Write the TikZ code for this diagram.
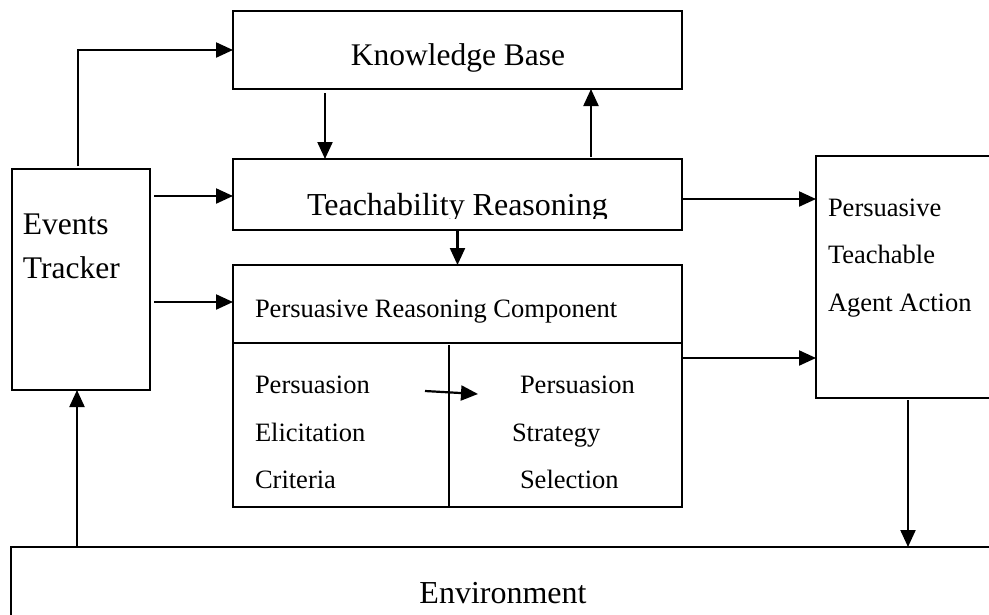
\documentclass[tikz,border=0pt]{standalone}
\usepackage{fontspec}
\setmainfont{Liberation Serif}
\usetikzlibrary{arrows.meta,calc}
\begin{document}
\begin{tikzpicture}[x=1pt,y=-1pt,
  box/.style={draw, line width=2pt, rectangle, anchor=north west,
              inner sep=0pt, outer sep=0pt},
  divider/.style={line width=2pt},
  arr/.style={line width=2.2pt, -{Triangle[length=17pt,width=15pt]}},
  lbl/.style={inner sep=0pt, outer sep=0pt, anchor=base west},
  fbig/.style={font=\fontsize{32}{36}\selectfont},
  fkb/.style={font=\fontsize{31.5}{36}\selectfont},
  fet/.style={font=\fontsize{31.5}{36}\selectfont},
  fmid/.style={font=\fontsize{26.5}{30}\selectfont}]
\clip (0,0) rectangle (989,614);
\fill[white] (0,0) rectangle (989,614);

% boxes
\node[box, minimum width=449pt, minimum height=78pt]  (kb)   at (233,11)  {};
\node[box, minimum width=449pt, minimum height=71pt]  (tr)   at (233,159) {};
\node[box, minimum width=138pt, minimum height=221pt] (et)   at (12,169)  {};
\node[box, minimum width=449pt, minimum height=242pt] (prc)  at (233,265) {};
\node[box, minimum width=184pt, minimum height=242pt] (ptaa) at (816,156) {};
\node[box, minimum width=1000pt, minimum height=100pt] (env) at (11,547)  {};

% inner dividers of the reasoning component
\draw[divider] ($(prc.north west)+(0,77.5)$) -- ($(prc.north east)+(0,77.5)$);
\draw[divider] ($(prc.south west)+(216,0)$) -- ++(0,-162);

% labels
\node[fkb, inner sep=0pt, anchor=base] (kbtxt) at (458,65) {Knowledge Base};
\begin{scope}
  \clip (233,159) rectangle (682,218);
  \node[lbl, fbig] (trtxt) at (307,215) {Teachability Reasoning};
\end{scope}
\node[lbl, fet] (et1) at (23,234) {Events};
\node[lbl, fet] (et2) at (23,278) {Tracker};
\node[lbl, fmid] (prctxt) at (255,317) {Persuasive Reasoning Component};
\node[lbl, fmid] (pe1) at (255,393) {Persuasion};
\node[lbl, fmid] (pe2) at (255,441) {Elicitation};
\node[lbl, fmid] (pe3) at (255,488) {Criteria};
\node[lbl, fmid] (ps1) at (520,393) {Persuasion};
\node[lbl, fmid] (ps2) at (512,441) {Strategy};
\node[lbl, fmid] (ps3) at (520,488) {Selection};
\node[lbl, fmid] (pa1) at (828,216) {Persuasive};
\node[lbl, fmid] (pa2) at (828,263) {Teachable};
\node[lbl, fmid] (pa3) at (828,311) {Agent Action};
\node[fbig, inner sep=0pt, anchor=base] (envtxt) at (503,603) {Environment};

% connector anchor points
\coordinate (etTop)  at ($(et.north west)+(66,-3)$);
\coordinate (etIn1)  at ($(tr.west)+(0,1.5)$);
\coordinate (prcIn)  at ($(prc.north west)+(0,37)$);
\coordinate (trOut)  at ($(tr.east)+(0,4.5)$);
\coordinate (prcOut) at ($(prc.north east)+(0,93)$);
\coordinate (kbDown) at ($(kb.south west)+(92,4)$);
\coordinate (trUp)   at ($(tr.north west)+(358,-2)$);
\coordinate (envUp)  at ($(et.south west)+(65,0)$);
\coordinate (inA)    at (425,391);
\coordinate (inB)    at (478,394);

% connectors
\draw[arr] (etTop) |- (kb.west);
\draw[arr] ($(et.east |- etIn1)+(4,0)$) -- (etIn1);
\draw[arr] ($(et.east |- prcIn)+(4,0)$) -- (prcIn);
\draw[arr] (kbDown) -- (kbDown |- tr.north);
\draw[arr] (trUp) -- (trUp |- kb.south);
\draw[arr] (tr.south) -- (prc.north);
\draw[arr] (trOut) -- (ptaa.west |- trOut);
\draw[arr] (prcOut) -- (ptaa.west |- prcOut);
\draw[arr] ($(ptaa.south)+(0,2)$) -- (ptaa.south |- env.north);
\draw[arr] (envUp |- env.north) -- (envUp);
\draw[arr] (inA) -- (inB);
\end{tikzpicture}
\end{document}
